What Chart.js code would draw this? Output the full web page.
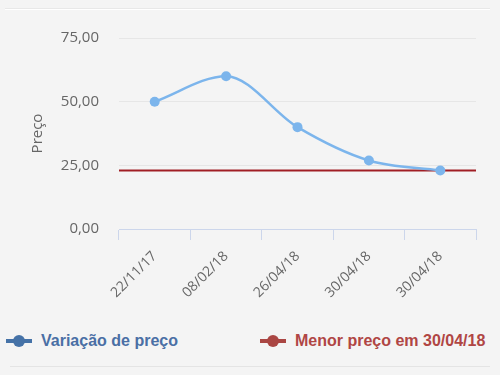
<!DOCTYPE html>
<html>
<head>
<meta charset="utf-8">
<script src="https://cdn.jsdelivr.net/npm/chart.js@4/dist/chart.umd.min.js"></script>
<style>
  html, body { margin: 0; padding: 0; background: #f4f4f4; width: 500px; height: 375px; overflow: hidden; }
  #top { position: absolute; left: 5px; top: 8px; width: 485px; height: 0; border-top: 1px solid #e8e8e8; border-bottom: 1px solid #ffffff; }
  #wrap { position: absolute; left: 0; top: 0; width: 500px; height: 320px; }
  #legend { position: absolute; left: 0; top: 330px; width: 500px; height: 24px; font-family: "Liberation Sans", Arial, sans-serif; font-weight: bold; font-size: 16px; }
  .item { position: absolute; top: 2px; display: flex; align-items: center; white-space: nowrap; }
  .sym { position: relative; width: 26px; height: 12px; margin-right: 9px; }
  .sym .ln { position: absolute; left: 0; top: 4px; width: 26px; height: 4px; }
  .sym .dt { position: absolute; left: 7px; top: 0; width: 12px; height: 12px; border-radius: 50%; }
  #sep { position: absolute; left: 10px; top: 366px; width: 480px; border-top: 1px solid #e4e4e4; }
</style>
</head>
<body>
<div id="top"></div>
<div id="wrap"><canvas id="c"></canvas></div>
<div id="legend">
  <div class="item" id="l1" style="left:6px;color:#4a6fa5;"><div class="sym"><div class="ln" style="background:#4572a7"></div><div class="dt" style="background:#4572a7"></div></div><span id="t1"></span></div>
  <div class="item" id="l2" style="left:260px;color:#b04644;"><div class="sym"><div class="ln" style="background:#aa4643"></div><div class="dt" style="background:#aa4643"></div></div><span id="t2"></span></div>
</div>
<div id="sep"></div>
<script>
const categories = ["22/11/17", "08/02/18", "26/04/18", "30/04/18", "30/04/18"];
const priceValues = [50, 60, 40, 26.9, 23];
const lowestPrice = 23;
const yTicks = [0, 25, 50, 75];
const seriesNames = ["Variação de preço", "Menor preço em 30/04/18"];
const yTitle = "Preço";

document.getElementById('t1').textContent = seriesNames[0];
document.getElementById('t2').textContent = seriesNames[1];

const fmt = v => v.toFixed(2).replace('.', ',');
const yFont = { family: "'Open Sans', sans-serif", size: 15 };
const xFont = { family: "'Open Sans', sans-serif", size: 14 };

new Chart(document.getElementById('c'), {
  type: 'line',
  data: {
    labels: categories,
    datasets: [
      {
        label: seriesNames[1],
        data: [{ x: 0, y: lowestPrice }, { x: 1, y: lowestPrice }],
        xAxisID: 'x2',
        borderColor: '#a01e24',
        borderWidth: 2,
        pointRadius: 0,
        order: 2
      },
      {
        label: seriesNames[0],
        data: priceValues,
        xAxisID: 'x',
        borderColor: '#7cb5ec',
        backgroundColor: '#7cb5ec',
        borderWidth: 2.5,
        pointRadius: 5,
        pointBorderWidth: 0,
        pointBackgroundColor: '#7cb5ec',
        cubicInterpolationMode: 'monotone',
        order: 1
      }
    ]
  },
  options: {
    responsive: true,
    maintainAspectRatio: false,
    animation: false,
    layout: { padding: { top: 38, left: 0, right: 24, bottom: 0 } },
    plugins: { legend: { display: false }, tooltip: { enabled: false } },
    scales: {
      x: {
        type: 'category',
        offset: true,
        grid: { display: true, offset: true, drawOnChartArea: false, drawTicks: true, tickLength: 11, color: '#ccd6eb', lineWidth: 1 },
        border: { display: true, color: '#ccd6eb', width: 1 },
        ticks: { color: '#666666', font: xFont, minRotation: 45, maxRotation: 45, padding: 8, autoSkip: false },
        afterFit: s => { s.height = 91; }
      },
      x2: {
        type: 'linear',
        display: false,
        min: 0,
        max: 1
      },
      y: {
        min: 0,
        max: 75,
        afterBuildTicks: s => { s.ticks = yTicks.map(v => ({ value: v })); },
        grid: { color: '#e6e6e6', drawTicks: false, lineWidth: 1 },
        border: { display: false },
        ticks: { color: '#666666', font: yFont, padding: 20, callback: v => fmt(v) },
        title: { display: true, text: yTitle, color: '#666666', font: yFont, padding: { top: 29, bottom: 0 } },
        afterFit: s => { s.width = 119; }
      }
    }
  }
});
</script>
</body>
</html>
